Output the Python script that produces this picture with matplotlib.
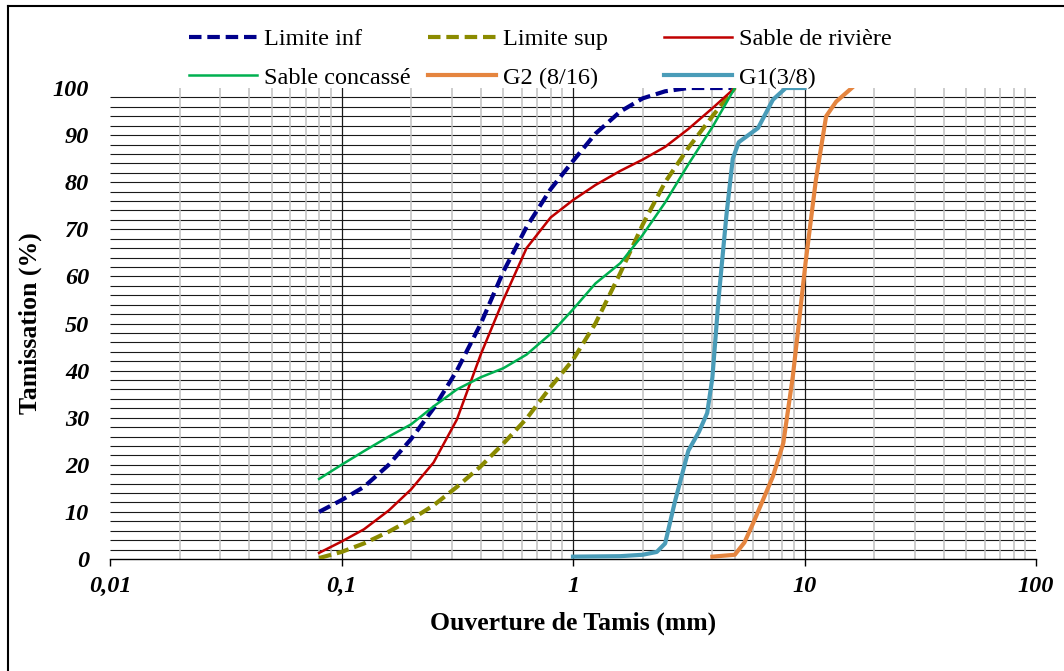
import numpy as np
import matplotlib.pyplot as plt
from matplotlib.lines import Line2D
from matplotlib.ticker import LogLocator, NullFormatter, FixedLocator

plt.rcParams["font.family"] = ["Liberation Serif", "DejaVu Serif"]

# sieve openings (mm) and passing (%)
sieves = [0.08, 0.1, 0.125, 0.16, 0.2, 0.25, 0.315, 0.4, 0.5, 0.63, 0.8, 1, 1.25, 1.6, 2, 2.5, 3.15, 4, 5]
limite_inf = [10, 12.5, 15.3, 20, 25.5, 32, 40, 50, 61, 70.5, 78.5, 84.5, 90.3, 95, 97.8, 99.3, 100, 100, 100]
limite_sup = [0.2, 1.5, 3.3, 5.8, 8.4, 11.4, 15.3, 19.7, 24.5, 29.8, 36.5, 42.3, 50, 60.7, 71, 80, 87.3, 94, 100]
sable_riviere = [1.3, 3.7, 6.3, 10.3, 14.8, 20.5, 29.6, 43.5, 55, 66, 72.5, 76.2, 79.4, 82.4, 84.8, 87.5, 91.3, 95.7, 100]
sable_concasse = [17, 20, 22.9, 26, 28.6, 32.4, 36, 38.6, 40.5, 43.4, 47.8, 53, 58.5, 62.8, 68.8, 75.7, 83.8, 91.7, 100]

g1_x = [1, 1.6, 2, 2.3, 2.5, 2.75, 3.15, 3.5, 3.8, 4, 4.25, 4.6, 4.9, 5.2, 6.3, 7.3, 8.3, 10]
g1_y = [0.5, 0.6, 0.9, 1.5, 3.3, 12, 23, 27, 31, 38.5, 55, 73, 85, 88.5, 91.5, 97.5, 100, 100]

g2_x = [4, 5, 5.5, 6, 7.3, 8.1, 8.9, 9.5, 10.1, 11.2, 12.4, 13.7, 16]
g2_y = [0.5, 0.9, 3.5, 7.6, 17.5, 24.6, 38.7, 51, 62.8, 80.5, 94, 97.1, 100]

x_ticks = [0.01, 0.1, 1, 10, 100]
x_labels = ["0,01", "0,1", "1", "10", "100"]
y_ticks = list(range(0, 101, 10))

fig = plt.figure(figsize=(10.64, 6.71), dpi=100)
ax = fig.add_axes([110 / 1064, 1 - 559 / 671, 926 / 1064, 471 / 671])

# grid
ax.hlines(np.arange(2, 100, 2), 0.01, 100, color="#1a1a1a", lw=0.8, zorder=0.5)
ax.set_xscale("log")
ax.set_xlim(0.01, 100)
ax.set_ylim(0, 100)
ax.xaxis.set_minor_locator(LogLocator(base=10, subs=np.arange(2, 10)))
ax.xaxis.set_minor_formatter(NullFormatter())
ax.grid(which="minor", axis="x", color="#c0c0c0", lw=1.1, zorder=0.4)
for xv in [0.1, 1, 10]:
    ax.axvline(xv, color="#1a1a1a", lw=0.9, zorder=0.6)

dash = (3, 1.4)
ax.plot(sieves, limite_inf, color="#00008b", lw=3, dashes=dash, label="Limite inf", zorder=3)
ax.plot(sieves, limite_sup, color="#8b8b00", lw=3, dashes=dash, label="Limite sup", zorder=3)
ax.plot(sieves, sable_riviere, color="#c00000", lw=1.8, label="Sable de rivière", zorder=3)
ax.plot(sieves, sable_concasse, color="#00b050", lw=1.8, label="Sable concassé", zorder=3)
ax.plot(g2_x, g2_y, color="#e5853f", lw=3, label="G2 (8/16)", zorder=3)
ax.plot(g1_x, g1_y, color="#4a9cb8", lw=3, label="G1(3/8)", zorder=3)

ax.xaxis.set_major_locator(FixedLocator(x_ticks))
ax.set_xticklabels(x_labels)
ax.set_yticks(y_ticks)
for lab in ax.get_xticklabels() + ax.get_yticklabels():
    lab.set_fontweight("bold")
    lab.set_fontstyle("italic")
    lab.set_fontsize(17.5)
ax.tick_params(axis="x", which="major", length=5, width=1, color="black", pad=7)
ax.tick_params(axis="x", which="minor", length=0)
ax.tick_params(axis="y", length=0, pad=15)

for s in ["left", "right", "top"]:
    ax.spines[s].set_visible(False)
ax.spines["bottom"].set_linewidth(1)
ax.spines["bottom"].set_zorder(2)

ax.set_xlabel("Ouverture de Tamis (mm)", fontsize=18.5, fontweight="bold", labelpad=11)
ax.set_ylabel("Tamissation (%)", fontsize=18.5, fontweight="bold", labelpad=8)

# legend split in three columns placed like the original
handles, labels = ax.get_legend_handles_labels()
cols = [[0, 3], [1, 4], [2, 5]]
col_x = [189, 428, 664]
for idx, cx in zip(cols, col_x):
    fig.legend([handles[i] for i in idx], [labels[i] for i in idx],
               loc="upper left", bbox_to_anchor=(cx / 1064, 1 - 28 / 671),
               frameon=False, fontsize=17.5, handlelength=2.8, handletextpad=0.3,
               labelspacing=0.68, borderpad=0, borderaxespad=0)

# outer frame
fig.add_artist(Line2D([8 / 1064, 1], [1 - 6 / 671, 1 - 6 / 671], color="black", lw=1.5))
fig.add_artist(Line2D([8 / 1064, 8 / 1064], [0, 1 - 6 / 671], color="black", lw=1.5))

fig.savefig("out.png", dpi=100)
